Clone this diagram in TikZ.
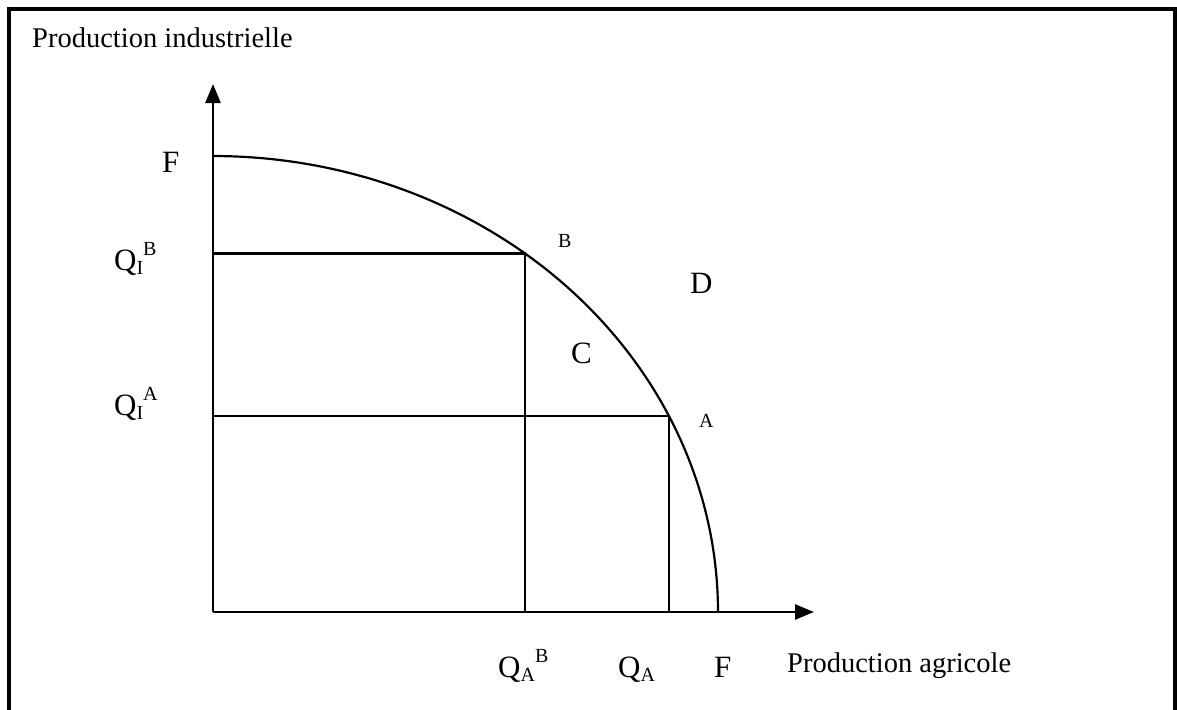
\documentclass[tikz,border=0pt]{standalone}
\usepackage{fontspec}
\setmainfont{Liberation Serif}
\usetikzlibrary{arrows.meta}
\newcommand{\bigf}{\fontsize{31}{31}\selectfont}
\newcommand{\txtf}{\fontsize{28.5}{28.5}\selectfont}
\newcommand{\smf}{\fontsize{20}{20}\selectfont}
\newcommand{\lbl}[3]{{\bigf #1}\raisebox{-4pt}{\smf #2}\raisebox{15pt}{\smf #3}}
\begin{document}
\begin{tikzpicture}[x=1pt,y=-1pt,
  frame/.style={line width=4pt},
  axis/.style={line width=2.6pt,-{Triangle[length=19pt,width=15pt]}},
  guide/.style={line width=2.2pt},
  curve/.style={line width=2.2pt},
  big/.style={anchor=base west,inner sep=0pt,font=\bigf},
  txt/.style={anchor=base west,inner sep=0pt,font=\txtf},
  small/.style={anchor=base west,inner sep=0pt,font=\smf}]
\useasboundingbox (0,0) rectangle (1177,709);
% frame (no bottom edge)
\draw[frame] (9,712) -- (9,9) -- (1175,9) -- (1175,712);
% axes
\coordinate (O) at (213,612);
\coordinate (ytop) at (213,84);
\coordinate (xend) at (814,612);
\draw[axis] (O) -- (ytop);
\draw[axis] (O) -- (xend);
% frontier
\draw[curve] plot[domain=90:0,samples=120] ({213+505*cos(\x)},{612-456*sin(\x)});
\coordinate (B) at ({213+505*cos(51.84)},{612-456*sin(51.84)});
\coordinate (A) at ({213+505*cos(25.44)},{612-456*sin(25.44)});
\draw[guide] (O |- B) -- (B) -- (B |- O);
\draw[guide] (O |- A) -- (A) -- (A |- O);
% labels
\node[txt] (ylab) at (32,48) {Production industrielle};
\node[txt] (xlab) at (787,672) {Production agricole};
\node[big] (Fy) at (162,172) {F};
\node[anchor=base west,inner sep=0pt] (QIB) at (114,270) {\lbl{Q}{I}{B}};
\node[anchor=base west,inner sep=0pt] (QIA) at (114,415) {\lbl{Q}{I}{A}};
\node[anchor=base west,inner sep=0pt] (QAB) at (498,677) {\lbl{Q}{A}{B}};
\node[anchor=base west,inner sep=0pt] (QA) at (618,677) {{\bigf Q}\raisebox{-4pt}{\smf A}};
\node[big] (Fx) at (714,677) {F};
\node[small] (Blab) at (558,247) {B};
\node[small] (Alab) at (699,427) {A};
\node[big] (Clab) at (571,363) {C};
\node[big] (Dlab) at (690,293) {D};
\end{tikzpicture}
\end{document}
